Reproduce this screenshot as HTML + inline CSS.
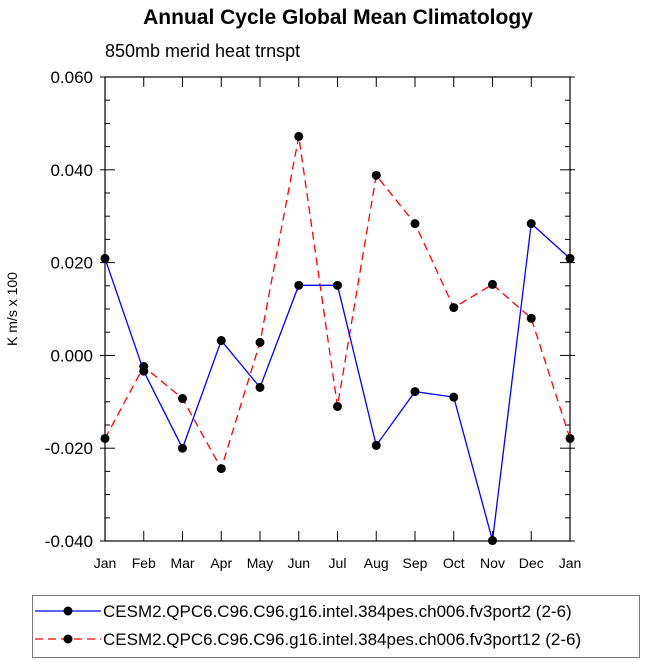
<!DOCTYPE html>
<html><head><meta charset="utf-8"><style>
body{margin:0;background:#fff;width:649px;height:663px;overflow:hidden;font-family:"Liberation Sans",sans-serif}
</style></head><body>
<svg id="c" width="649" height="663" xmlns="http://www.w3.org/2000/svg" font-family="Liberation Sans, sans-serif">
<text x="338" y="24" text-anchor="middle" font-size="21" font-weight="bold">Annual Cycle Global Mean Climatology</text>
<text x="105" y="57" font-size="18">850mb merid heat trnspt</text>
<text transform="translate(17,309) rotate(-90)" text-anchor="middle" font-size="14">K m/s x 100</text>
<g id="axes"></g>
<g id="series"></g>
<g>
<rect x="32.5" y="595.5" width="607" height="62" fill="#fff" stroke="#777" stroke-width="1"/>
<line x1="35" y1="611" x2="101" y2="611" stroke="#00f" stroke-width="1.2"/>
<circle cx="68" cy="611" r="4.5" fill="#000"/>
<line x1="35" y1="639" x2="101" y2="639" stroke="#f00" stroke-width="1.2" stroke-dasharray="8,5"/>
<circle cx="68" cy="639" r="4.5" fill="#000"/>
<text x="103" y="617" font-size="17">CESM2.QPC6.C96.C96.g16.intel.384pes.ch006.fv3port2 (2-6)</text>
<text x="103" y="645" font-size="17">CESM2.QPC6.C96.C96.g16.intel.384pes.ch006.fv3port12 (2-6)</text>
</g>
</svg>
<script>
const months=["Jan","Feb","Mar","Apr","May","Jun","Jul","Aug","Sep","Oct","Nov","Dec","Jan"];
const port2=[0.0209,-0.0034,-0.0200,0.0032,-0.0069,0.0151,0.0151,-0.0194,-0.0078,-0.0090,-0.0399,0.0284,0.0209];
const port12=[-0.0179,-0.0024,-0.0093,-0.0244,0.0028,0.0472,-0.0110,0.0388,0.0284,0.0103,0.0153,0.0080,-0.0179];
const yTicks=[-0.04,-0.02,0,0.02,0.04,0.06];
const yTickLabels=["-0.040","-0.020","0.000","0.020","0.040","0.060"];
const X0=105,X1=570,Y0=541,Y1=77,ymin=-0.04,ymax=0.06;
const xs=i=>X0+(X1-X0)*i/(months.length-1);
const ys=v=>Y0-(v-ymin)/(ymax-ymin)*(Y0-Y1);
const NS="http://www.w3.org/2000/svg";
function mk(t,a,p){const e=document.createElementNS(NS,t);for(const k in a)e.setAttribute(k,a[k]);p.appendChild(e);return e;}
const ax=document.getElementById('axes');
const fr=mk('rect',{x:X0,y:Y1,width:X1-X0,height:Y0-Y1,fill:'none',stroke:'#000','stroke-width':1.2},ax);


months.forEach((m,i)=>{const x=xs(i);
mk('line',{x1:x,y1:Y0,x2:x,y2:Y0-10,stroke:'#000'},ax);
mk('line',{x1:x,y1:Y1,x2:x,y2:Y1+10,stroke:'#000'},ax);
const t=mk('text',{x:x,y:Y0+27,'text-anchor':'middle','font-size':14},ax);t.textContent=m;

});
for(let v=ymin;v<=ymax+1e-9;v+=0.005){const y=ys(v);const maj=Math.abs(Math.round(v*1000)%20)<1e-6;const L=maj?10:5;
mk('line',{x1:X0,y1:y,x2:X0+L,y2:y,stroke:'#000'},ax);
mk('line',{x1:X1,y1:y,x2:X1-L,y2:y,stroke:'#000'},ax);}
yTicks.forEach((v,i)=>{const y=ys(v);
mk('line',{x1:X0,y1:y,x2:X0-5,y2:y,stroke:'#000'},ax);
mk('line',{x1:X1,y1:y,x2:X1+5,y2:y,stroke:'#000'},ax);
const t=mk('text',{x:X0-12,y:y+6,'text-anchor':'end','font-size':17},ax);t.textContent=yTickLabels[i];

});
const sg=document.getElementById('series');
function draw(d,col,dash,name){
const pl=mk('polyline',{points:d.map((v,i)=>xs(i)+','+ys(v)).join(' '),fill:'none',stroke:col,'stroke-width':1.3,'stroke-dasharray':dash},sg);


d.forEach((v,i)=>{const c=mk('circle',{cx:xs(i),cy:ys(v),r:4.5,fill:'#000'},sg);

});}
draw(port12,'#f00','8,5','series-port12');
draw(port2,'#00f','none','series-port2');
</script>
</body></html>
